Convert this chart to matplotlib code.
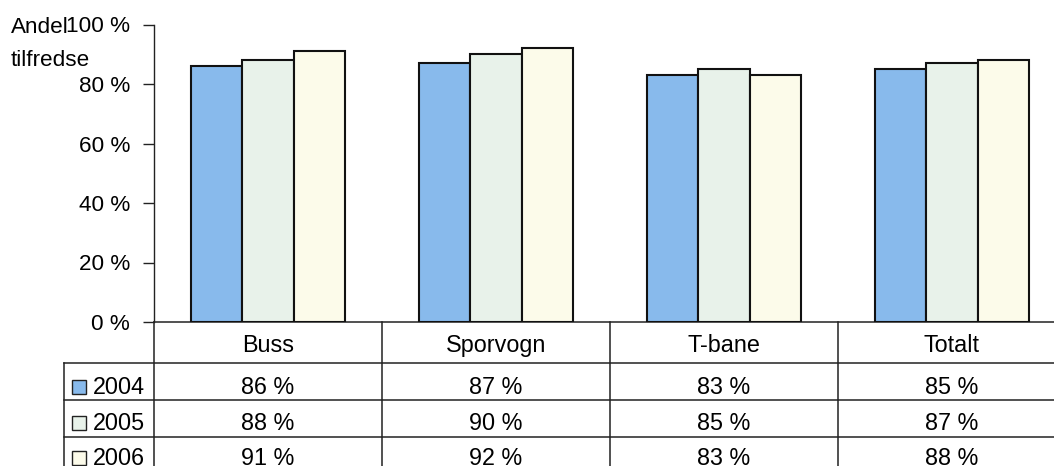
import matplotlib
matplotlib.use("Agg")
import matplotlib.pyplot as plt
from matplotlib.transforms import blended_transform_factory
from matplotlib.patches import Rectangle

plt.rcParams['font.family'] = ['Liberation Sans', 'DejaVu Sans']

categories = ["Buss", "Sporvogn", "T-bane", "Totalt"]
years = ["2004", "2005", "2006"]
v2004 = [86, 87, 83, 85]
v2005 = [88, 90, 85, 87]
v2006 = [91, 92, 83, 88]
series = [v2004, v2005, v2006]
yticks = [0, 20, 40, 60, 80, 100]
ytick_labels = ["0 %", "20 %", "40 %", "60 %", "80 %", "100 %"]

colors = ["#88baec", "#e8f2ea", "#fcfbea"]

W, H = 1054, 466
fig = plt.figure(figsize=(W / 100, H / 100), dpi=100)

def fx(px):
    return px / W

def fy(py):
    return 1 - py / H

FS = 16.8
FS_TICK = 16.2
ax_left, ax_right = 154, 1066
ax_top, ax_bot = 24.5, 322
ax = fig.add_axes([fx(ax_left), fy(ax_bot), fx(ax_right - ax_left), (ax_bot - ax_top) / H])

bw = 0.224
n = len(categories)
for i, vals in enumerate(series):
    xs = [c + 0.5 + (i - 1) * bw for c in range(n)]
    ax.bar(xs, vals, width=bw, color=colors[i], edgecolor="#111111", linewidth=1.5, zorder=3)

ax.set_xlim(0, n)
ax.set_ylim(0, 100)
ax.set_yticks(yticks)
ax.set_yticklabels(ytick_labels, fontsize=FS_TICK)
ax.set_xticks([])
for s in ["top", "right", "bottom"]:
    ax.spines[s].set_visible(False)
ax.spines["left"].set_linewidth(1.0)
ax.spines["left"].set_color("#222222")
ax.tick_params(axis="y", direction="out", length=8, width=1.0, pad=9.2, color="#222222")

fig.text(fx(11), fy(33), "Andel", fontsize=FS_TICK, ha="left", va="baseline")
fig.text(fx(11), fy(66), "tilfredse", fontsize=FS_TICK, ha="left", va="baseline")

# data table below the axis
tr = blended_transform_factory(ax.transData, fig.transFigure)
ftr = fig.transFigure
lc = "#222222"
lw = 1.1
row_lines = [362.7, 400, 436.7]
header_base = 352
row_base = [394, 429.5, 465]

ax.plot([0, n], [fy(ax_bot), fy(ax_bot)], transform=tr, color=lc, lw=lw, clip_on=False)
for c in range(n + 1):
    ax.plot([c, c], [fy(ax_bot), 0], transform=tr, color=lc, lw=lw, clip_on=False)
leg_left = 64
for yl in row_lines:
    fig.add_artist(plt.Line2D([fx(leg_left), fx(W)], [fy(yl), fy(yl)], transform=ftr, color=lc, lw=lw))
fig.add_artist(plt.Line2D([fx(leg_left), fx(leg_left)], [fy(row_lines[0]), 0], transform=ftr, color=lc, lw=lw))

for c, name in enumerate(categories):
    ax.text(c + 0.5, fy(header_base), name, transform=tr, ha="center", va="baseline", fontsize=FS)
    for r, vals in enumerate(series):
        ax.text(c + 0.5, fy(row_base[r]), f"{vals[c]} %", transform=tr, ha="center", va="baseline", fontsize=FS)

sq = 14
for r, yr in enumerate(years):
    fig.add_artist(Rectangle((fx(72), fy(row_base[r])), fx(sq), sq / H, transform=ftr,
                             facecolor=colors[r], edgecolor="#222222", lw=1.0))
    fig.text(fx(93), fy(row_base[r]), yr, fontsize=FS, ha="left", va="baseline")

fig.savefig("out.png", dpi=100)
